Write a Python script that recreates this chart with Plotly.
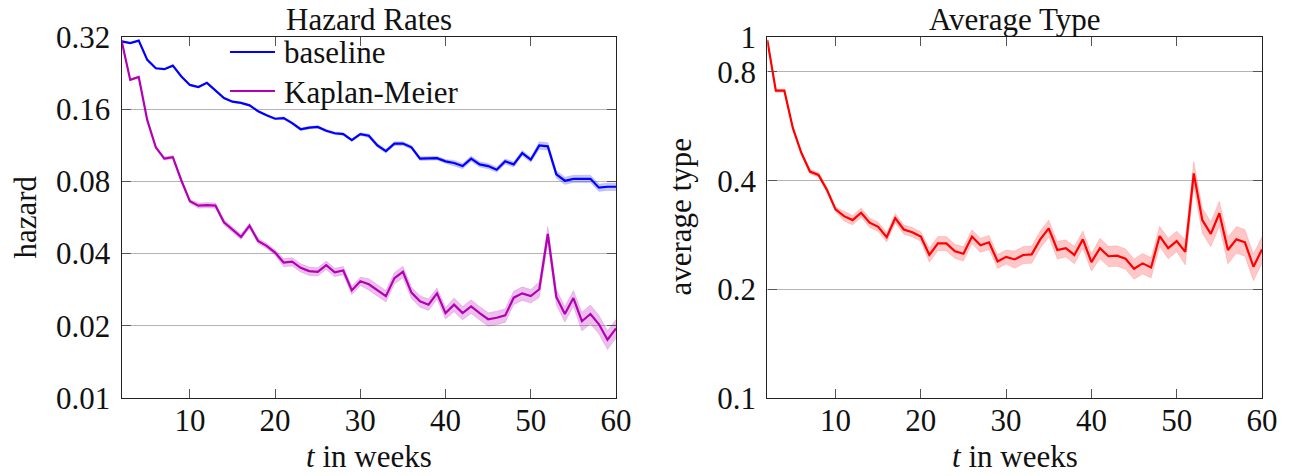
import math
import plotly.graph_objects as go

weeks = list(range(2, 61))

baseline = [0.307, 0.302, 0.309, 0.257, 0.237, 0.235, 0.243, 0.219, 0.202, 0.198,
            0.206, 0.192, 0.178, 0.172, 0.170, 0.166, 0.157, 0.151, 0.146, 0.147,
            0.140, 0.132, 0.134, 0.135, 0.130, 0.127, 0.126, 0.119, 0.126,
            0.124, 0.113, 0.107, 0.115, 0.115, 0.111, 0.0996, 0.0996, 0.100, 0.0970,
            0.0955, 0.0927, 0.0996, 0.0942, 0.0927, 0.0895, 0.0970, 0.0942, 0.105, 0.0985,
            0.113, 0.112, 0.0856, 0.0805, 0.0820, 0.0820, 0.0820, 0.0753, 0.0760, 0.0760]

kaplan_meier = [0.307, 0.212, 0.218, 0.144, 0.111, 0.0996, 0.101, 0.0807, 0.0662, 0.0634,
                0.0637, 0.0634, 0.0540, 0.0506, 0.0470, 0.0523, 0.0452, 0.0431, 0.0404, 0.0367,
                0.0370, 0.0349, 0.0338, 0.0336, 0.0358, 0.0334, 0.0340, 0.0281, 0.0307,
                0.0298, 0.0281, 0.0266, 0.0316, 0.0336, 0.0275, 0.0253, 0.0245, 0.0273, 0.0226,
                0.0245, 0.0226, 0.0241, 0.0226, 0.0213, 0.0216, 0.0221, 0.0262, 0.0273, 0.0266,
                0.0284, 0.0483, 0.0264, 0.0224, 0.0261, 0.0209, 0.0224, 0.0203, 0.0175, 0.0195]

avg_type = [0.98, 0.710, 0.710, 0.559, 0.477, 0.424, 0.415, 0.377, 0.333, 0.319,
            0.311, 0.326, 0.306, 0.298, 0.279, 0.315, 0.293, 0.288, 0.280, 0.249,
            0.268, 0.268, 0.255, 0.251, 0.280, 0.265, 0.270, 0.239, 0.246,
            0.242, 0.249, 0.250, 0.275, 0.295, 0.257, 0.260, 0.249, 0.275, 0.238,
            0.260, 0.247, 0.248, 0.243, 0.228, 0.236, 0.230, 0.281, 0.260, 0.272,
            0.254, 0.419, 0.311, 0.285, 0.325, 0.257, 0.275, 0.270, 0.231, 0.258]

# relative half-widths of the shaded confidence bands
baseline_err = [0.005, 0.005, 0.005, 0.005, 0.005, 0.005, 0.005, 0.005, 0.008, 0.008,
                0.008, 0.008, 0.008, 0.008, 0.008, 0.008, 0.008, 0.008, 0.008, 0.012,
                0.012, 0.012, 0.012, 0.012, 0.012, 0.012, 0.012, 0.012, 0.012,
                0.018, 0.018, 0.018, 0.018, 0.018, 0.018, 0.018, 0.018, 0.018, 0.018,
                0.025, 0.025, 0.025, 0.025, 0.025, 0.025, 0.025, 0.025, 0.025, 0.025,
                0.035, 0.035, 0.035, 0.035, 0.035, 0.035, 0.035, 0.035, 0.035, 0.035]

km_err = [0.008, 0.008, 0.008, 0.008, 0.015, 0.015, 0.015, 0.015, 0.015, 0.025,
          0.025, 0.025, 0.025, 0.025, 0.025, 0.025, 0.025, 0.025, 0.025, 0.04,
          0.04, 0.04, 0.04, 0.04, 0.04, 0.04, 0.04, 0.04, 0.04,
          0.055, 0.055, 0.055, 0.055, 0.055, 0.055, 0.055, 0.055, 0.055, 0.055,
          0.065, 0.065, 0.065, 0.065, 0.065, 0.065, 0.065, 0.065, 0.065, 0.065,
          0.075, 0.075, 0.075, 0.075, 0.075, 0.09, 0.09, 0.09, 0.09, 0.09]

avg_err = [0.01, 0.01, 0.01, 0.01, 0.01, 0.015, 0.015, 0.015, 0.015, 0.03,
           0.03, 0.03, 0.03, 0.03, 0.03, 0.03, 0.03, 0.03, 0.03, 0.045,
           0.045, 0.045, 0.045, 0.045, 0.045, 0.045, 0.045, 0.045, 0.045,
           0.055, 0.055, 0.055, 0.055, 0.055, 0.055, 0.055, 0.055, 0.055, 0.055,
           0.065, 0.065, 0.065, 0.065, 0.065, 0.065, 0.065, 0.065, 0.065, 0.065,
           0.08, 0.08, 0.08, 0.08, 0.08, 0.085, 0.085, 0.085, 0.085, 0.085]

hazard_ticks = [0.01, 0.02, 0.04, 0.08, 0.16, 0.32]
hazard_ticktext = ["0.01", "0.02", "0.04", "0.08", "0.16", "0.32"]
type_ticks = [0.1, 0.2, 0.4, 0.8, 1.0]
type_ticktext = ["0.1", "0.2", "0.4", "0.8", "1"]
week_ticks = [10, 20, 30, 40, 50, 60]

FONT = "Liberation Serif"
FS = 31
OFF = 8                      # default page body margin
PAGE_W, PAGE_H = 1289, 476
W, H = PAGE_W - OFF, PAGE_H - OFF


def px(x):                   # page pixel x -> paper fraction
    return (x - OFF) / W


def py(y):                   # page pixel y -> paper fraction
    return 1 - (y - OFF) / H


fig = go.Figure()


def add_series(x, y, err, color, fill, xa, ya):
    upper = [v * (1 + e) for v, e in zip(y, err)]
    lower = [v * (1 - e) for v, e in zip(y, err)]
    fig.add_trace(go.Scatter(x=x, y=upper, mode="lines", line=dict(color=fill, width=0.6),
                             showlegend=False, hoverinfo="skip", xaxis=xa, yaxis=ya))
    fig.add_trace(go.Scatter(x=x, y=lower, mode="lines", line=dict(color=fill, width=0.6),
                             fill="tonexty", fillcolor=fill, showlegend=False,
                             hoverinfo="skip", xaxis=xa, yaxis=ya))
    fig.add_trace(go.Scatter(x=x, y=y, mode="lines", line=dict(color=color, width=2.2),
                             showlegend=False, xaxis=xa, yaxis=ya))


BLUE, MAG, RED = "#0000ff", "#b400b4", "#ff0000"
add_series(weeks, baseline, baseline_err, BLUE, "rgba(0,0,255,0.22)", "x", "y")
add_series(weeks, kaplan_meier, km_err, MAG, "rgba(180,0,180,0.25)", "x", "y")
add_series(weeks, avg_type, avg_err, RED, "rgba(255,0,0,0.22)", "x2", "y2")

# pixel geometry of the plot boxes (page coordinates)
L1, R1 = 121.7, 616.0
L2, R2 = 767.3, 1262.0
TOP, BOT = 37.0, 398.0
ydom = [py(BOT), py(TOP)]

tfont = dict(family=FONT, size=FS, color="#111111")
axis_common = dict(showline=True, linecolor="#222222", linewidth=1.4, mirror="allticks",
                   ticks="inside", ticklen=9, tickwidth=1, tickcolor="#555555",
                   tickfont=tfont, zeroline=False, automargin=False)

annotations = []


def text(t, x, y, angle=0, anchor="center", yanchor="middle"):
    annotations.append(dict(text=t, x=px(x), y=py(y), xref="paper", yref="paper",
                            xanchor=anchor, yanchor=yanchor, textangle=angle,
                            showarrow=False, font=tfont))


text("Hazard Rates", (L1 + R1) / 2, 19)
text("Average Type", (L2 + R2) / 2, 19)
text("<i>t</i> in weeks", (L1 + R1) / 2, PAGE_H, yanchor="bottom")
text("<i>t</i> in weeks", (L2 + R2) / 2, PAGE_H, yanchor="bottom")
text("hazard", 25, (TOP + BOT) / 2, angle=-90)
text("average type", 680, (TOP + BOT) / 2, angle=-90)

# legend
shapes = []
for label, color, yy in [("baseline", BLUE, 52), ("Kaplan-Meier", MAG, 91)]:
    shapes.append(dict(type="line", xref="paper", yref="paper", x0=px(230), x1=px(275),
                       y0=py(yy), y1=py(yy), line=dict(color=color, width=2)))
    text(label, 282, yy + 1, anchor="left")

fig.update_layout(
    width=W, height=H,
    margin=dict(l=0, r=0, t=0, b=0, autoexpand=False),
    paper_bgcolor="white", plot_bgcolor="white",
    font=tfont, showlegend=False,
    xaxis=dict(domain=[px(L1), px(R1)], range=[2, 60], tickvals=week_ticks, showgrid=False,
               anchor="y", ticklabelstandoff=-5, **axis_common),
    yaxis=dict(domain=ydom, type="log", range=[-2, math.log10(0.32)], tickvals=hazard_ticks,
               ticktext=hazard_ticktext, showgrid=True, gridcolor="#b4b4b4", gridwidth=1,
               anchor="x", ticklabelstandoff=4, **axis_common),
    xaxis2=dict(domain=[px(L2), px(R2)], range=[2, 60], tickvals=week_ticks, showgrid=False,
                anchor="y2", ticklabelstandoff=-5, **axis_common),
    yaxis2=dict(domain=ydom, type="log", range=[-1, 0], tickvals=type_ticks,
                ticktext=type_ticktext, showgrid=True, gridcolor="#b4b4b4", gridwidth=1,
                anchor="x2", ticklabelstandoff=4, **axis_common),
    annotations=annotations,
    shapes=shapes,
)

fig.write_html("out.html")
